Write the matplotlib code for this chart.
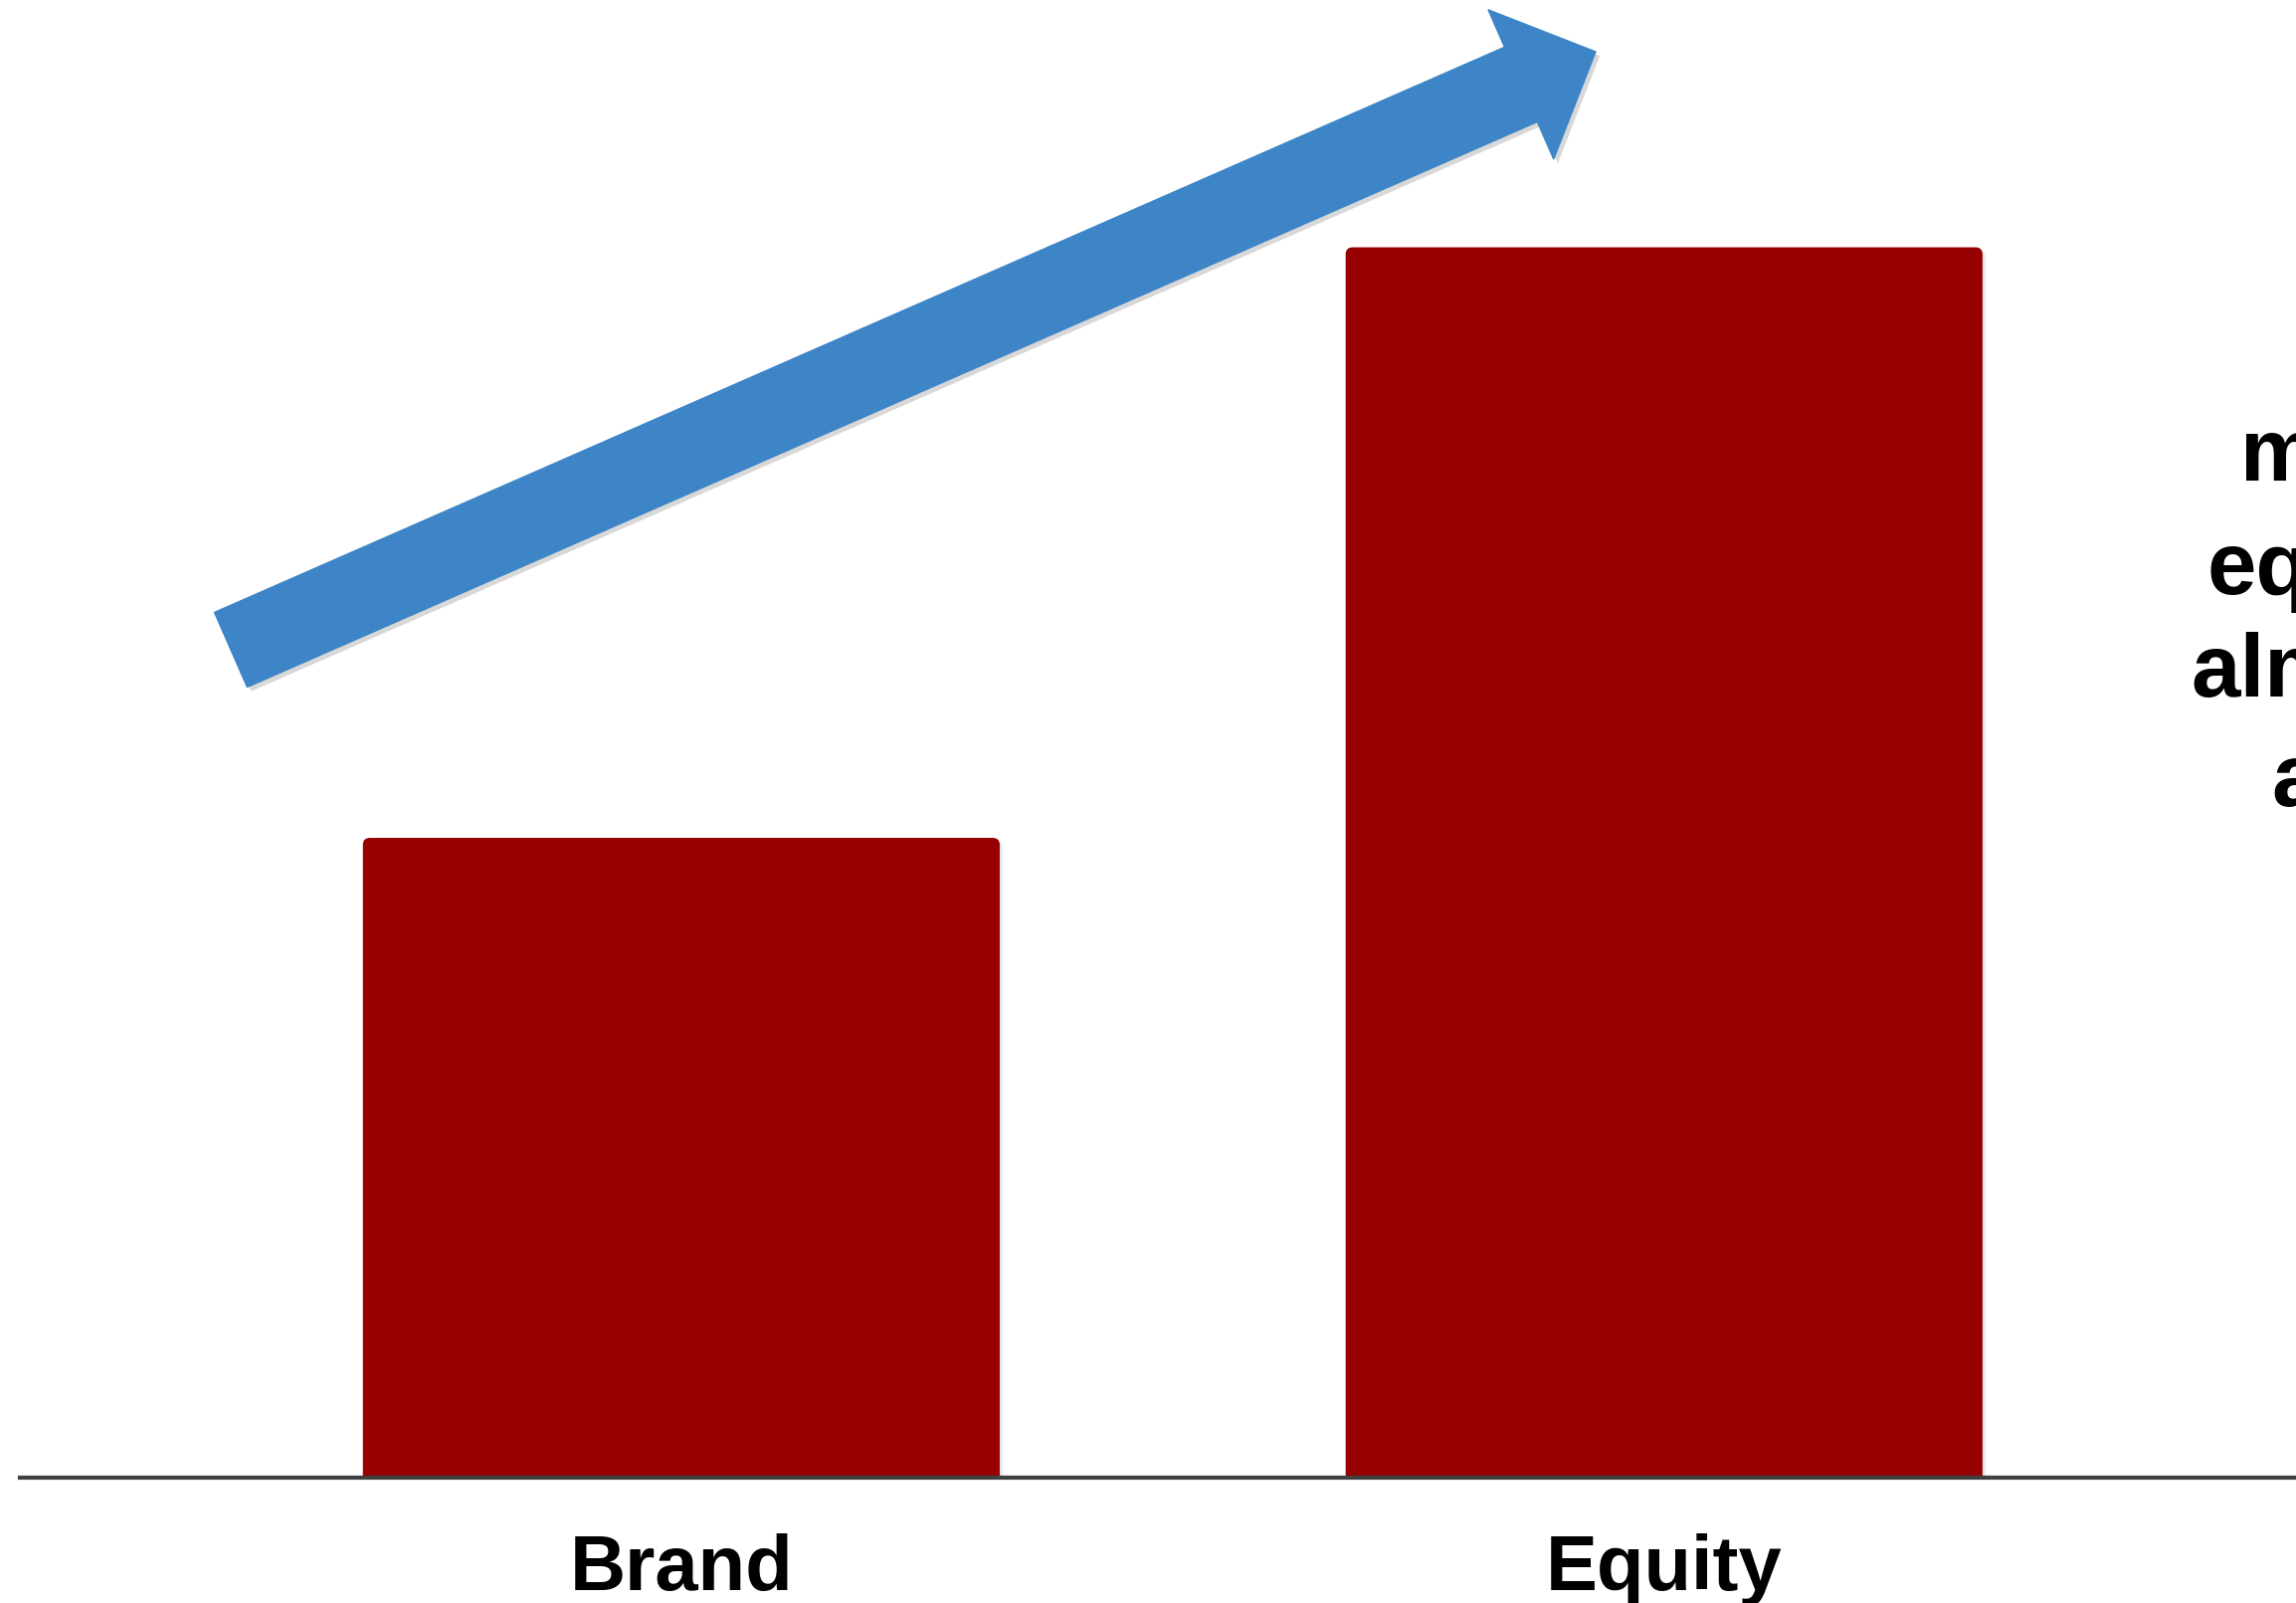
import matplotlib
matplotlib.use("Agg")
import matplotlib.pyplot as plt
import matplotlib.transforms as mtransforms
import matplotlib.patheffects as pe
from matplotlib.patches import FancyArrow, FancyBboxPatch

# Data
categories = ["Brand", "Equity"]
values = [52, 100]
note_lines = ["more", "equity", "almost", "a"]

BAR_COLOR = "#960000"
ARROW_COLOR = "#3d85c6"
W, H = 2308, 1611

plt.rcParams["font.family"] = ["Liberation Sans", "DejaVu Sans"]

fig = plt.figure(figsize=(W / 100, H / 100), dpi=100)
fig.patch.set_facecolor("white")

# Axes: baseline near the bottom, running off the right edge
ax = fig.add_axes([20 / W, 126 / H, (W - 20) / W, 1485 / H])
ax.set_xlim(-0.673, 1.643)
ax.set_ylim(0, 120.1)

x = list(range(len(categories)))
bars = ax.bar(x, values, width=0.648, color=BAR_COLOR, zorder=2)

# Swap the plain rectangles for ones with softly rounded top corners
for rect in list(bars):
    x0, w, h = rect.get_x(), rect.get_width(), rect.get_height()
    rect.set_visible(False)
    ax.add_patch(FancyBboxPatch((x0, -2), w, h + 2,
                                boxstyle="round,pad=0,rounding_size=0.0071",
                                mutation_aspect=80, facecolor=BAR_COLOR,
                                edgecolor="none", zorder=2,
                                path_effects=[pe.SimplePatchShadow(offset=(2, -2), shadow_rgbFace="gray", alpha=0.2),
                                              pe.Normal()]))

for s in ["top", "right", "left"]:
    ax.spines[s].set_visible(False)
ax.spines["bottom"].set_color("#404040")
ax.spines["bottom"].set_linewidth(3)
ax.spines["bottom"].set_zorder(3)
ax.set_yticks([])
ax.set_xticks(x)
ax.set_xticklabels(categories, fontsize=56, fontweight="bold", color="black")
ax.tick_params(axis="x", length=0, pad=40)

# Pixel-based transform (origin top-left) for the trend arrow and side note
px = mtransforms.Affine2D().scale(1 / W, -1 / H).translate(0, 1) + fig.transFigure

tail = (232, 653)
tip = (1604, 52)
arrow = FancyArrow(tail[0], tail[1], tip[0] - tail[0], tip[1] - tail[1],
                   width=82, head_width=164, head_length=82,
                   length_includes_head=True, color=ARROW_COLOR,
                   transform=px, zorder=5,
                   path_effects=[pe.SimplePatchShadow(offset=(3, -3), shadow_rgbFace="gray", alpha=0.3),
                                 pe.Normal()])
fig.patches.append(arrow)

note_x = [2252, 2218, 2202, 2283]
note_y = [483, 597, 700, 810]
for txt, nx, ny in zip(note_lines, note_x, note_y):
    fig.text(nx, ny, txt, transform=px, fontsize=64, fontweight="bold",
             ha="left", va="baseline", color="black")

fig.savefig("out.png", dpi=100, facecolor="white")
